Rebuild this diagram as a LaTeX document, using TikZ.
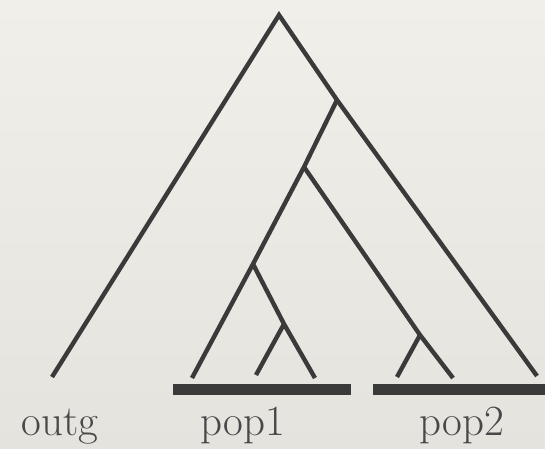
\documentclass[tikz,border=0pt]{standalone}
\usetikzlibrary{calc}
\definecolor{bgtop}{RGB}{241,239,234}
\definecolor{bgbot}{RGB}{229,227,222}
\definecolor{ink}{RGB}{58,58,58}
\definecolor{txt}{RGB}{72,72,72}
\tikzset{
  branch/.style={draw=ink, line width=4.4pt, line cap=butt, line join=miter},
  bar/.style={fill=ink, draw=none},
  lbl/.style={text=txt, anchor=base, inner sep=0pt, font=\fontsize{43}{50}\selectfont}
}
\begin{document}
\begin{tikzpicture}[x=1pt,y=-1pt]
\useasboundingbox (0,0) rectangle (545,448);
\shade[top color=bgtop, bottom color=bgbot] (0,0) rectangle (545,448);
% tree vertices
\coordinate (root) at (279,15);
\coordinate (A) at (337,100);
\coordinate (B) at (304,167);
\coordinate (C) at (253,264);
\coordinate (D) at (284,324);
\coordinate (E) at (420,335);
% leaves
\coordinate (outgleaf) at (52,377);
\coordinate (R) at (537,376);
\coordinate (L1) at (192,378);
\coordinate (L2) at (256,375);
\coordinate (L3) at (315,378);
\coordinate (L4) at (397,377);
\coordinate (L5) at (453,378);
% branches
\draw[branch] (outgleaf) -- (root) -- (A) -- (R);
\draw[branch] (A) -- (B) -- (C) -- (L1);
\draw[branch] (B) -- (E) -- (L5);
\draw[branch] (E) -- (L4);
\draw[branch] (C) -- (D) -- (L3);
\draw[branch] (D) -- (L2);
% population bars
\path[bar] (173,384) rectangle (351,395);
\path[bar] (373,384) rectangle (545,395);
% labels
\node[lbl] (outg) at (60,435) {outg};
\node[lbl] (pop1) at (243,435) {pop1};
\node[lbl] (pop2) at (462,435) {pop2};
\end{tikzpicture}
\end{document}
